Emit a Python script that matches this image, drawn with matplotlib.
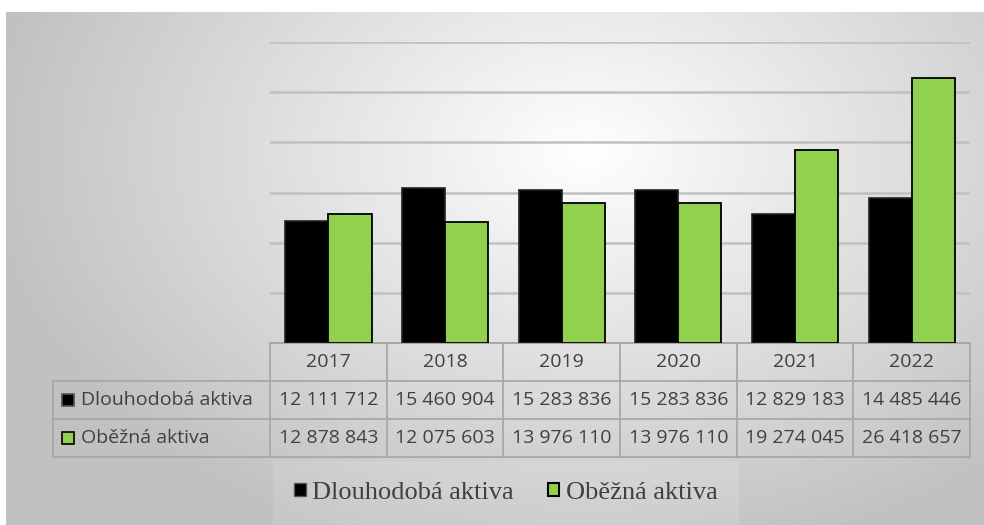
import numpy as np
import matplotlib.pyplot as plt
from matplotlib.patches import Patch, Rectangle

# data
years = ['2017', '2018', '2019', '2020', '2021', '2022']
dlouhodoba = [12111712, 15460904, 15283836, 15283836, 12829183, 14485446]
obezna = [12878843, 12075603, 13976110, 13976110, 19274045, 26418657]
series_names = ['Dlouhodobá aktiva', 'Oběžná aktiva']
series_colors = ['#000000', '#92D050']

W, H = 984, 525
fig = plt.figure(figsize=(W / 100, H / 100), dpi=100)
fig.patch.set_facecolor('white')

# background radial gradient (chart area)
bg = fig.add_axes([6 / W, 0, (W - 6) / W, (H - 12) / H], zorder=-10)
yy, xx = np.mgrid[0:H - 12, 0:W - 6]
d = np.sqrt(((xx - 580) / 520.0) ** 2 + ((yy - 140) / 360.0) ** 2)
val = np.clip(1.0 - 0.21 * d, 0.76, 1.0)
bg.imshow(np.dstack([val, val, val]), aspect='auto', extent=[0, 1, 0, 1], origin='upper')
bg.set_axis_off()

# main plot
left, right = 270 / W, 970 / W
bottom, top = (H - 343) / H, (H - 42) / H
ax = fig.add_axes([left, bottom, right - left, top - bottom])
ax.set_facecolor('none')

x = np.arange(len(years))
bw = 0.37
ax.bar(x - bw / 2, dlouhodoba, bw, color=series_colors[0], edgecolor='#222222', lw=1.2, zorder=3)
ax.bar(x + bw / 2, obezna, bw, color=series_colors[1], edgecolor='black', lw=1.3, zorder=3)

ax.set_xlim(-0.5, len(years) - 0.5)
ax.set_ylim(0, 30000000)
ax.set_yticks(np.arange(0, 30000001, 5000000))
ax.yaxis.grid(True, color='#c0c0c0', lw=1.8, zorder=0)
ax.set_axisbelow(True)
ax.tick_params(left=False, labelleft=False, bottom=False, labelbottom=False)
for s in ['left', 'right', 'top']:
    ax.spines[s].set_visible(False)
ax.spines['bottom'].set_color('#a8a8a8')
ax.spines['bottom'].set_linewidth(1.3)

# data table under the axis
ax_h = 343 - 42
def yf(py):
    return -(py - 343) / ax_h

row_edges = [yf(343), yf(381), yf(419), yf(457)]
lab_left = -0.5 - (270 - 53) / (700 / len(years))
tr = ax.get_xaxis_transform()
lc = '#a8a8a8'
tkw = dict(transform=tr, clip_on=False)

# horizontal lines
ax.plot([-0.5, len(years) - 0.5], [row_edges[0]] * 2, color=lc, lw=1.3, **tkw)
for r in row_edges[1:]:
    ax.plot([lab_left, len(years) - 0.5], [r, r], color=lc, lw=1.3, **tkw)
# vertical lines
for i in range(len(years) + 1):
    ax.plot([i - 0.5, i - 0.5], [row_edges[0], row_edges[3]], color=lc, lw=1.3, **tkw)
ax.plot([lab_left, lab_left], [row_edges[1], row_edges[3]], color=lc, lw=1.3, **tkw)

tfont = dict(family='Open Sans', fontsize=14, color='#404040')
for i, yr in enumerate(years):
    ax.text(i, (row_edges[0] + row_edges[1]) / 2, yr, ha='center', va='center', **tfont, **tkw)

def fmt(v):
    return f'{v:,}'.replace(',', ' ')

px = 700 / len(years)
for r, (name, vals, col) in enumerate(zip(series_names, [dlouhodoba, obezna], series_colors)):
    yc = (row_edges[r + 1] + row_edges[r + 2]) / 2
    for i, v in enumerate(vals):
        ax.text(i, yc, fmt(v), ha='center', va='center', **tfont, **tkw)
    sq = 12 / ax_h
    ax.add_patch(Rectangle((lab_left + 9 / px, yc - sq / 2), 12 / px, sq, facecolor=col,
                           edgecolor='#555555' if r == 0 else 'black', lw=1.2,
                           transform=tr, clip_on=False))
    ax.text(lab_left + 28 / px, yc, name, ha='left', va='center', **tfont, **tkw)

# legend
handles = [Patch(facecolor=series_colors[0], edgecolor='#555555', lw=1.0),
           Patch(facecolor=series_colors[1], edgecolor='black', lw=1.5)]
leg = fig.legend(handles, series_names, loc='center', bbox_to_anchor=(506 / W, 1 - 493 / H),
                 ncol=2, frameon=True, fancybox=False, handlelength=0.42, handleheight=0.42,
                 handletextpad=0.25, columnspacing=1.3, borderpad=0.8,
                 prop=dict(family='Liberation Serif', size=19))
leg.get_frame().set_facecolor('white')
leg.get_frame().set_alpha(0.12)
leg.get_frame().set_edgecolor('none')
for t in leg.get_texts():
    t.set_color('#404040')

fig.savefig('out.png', dpi=100)
